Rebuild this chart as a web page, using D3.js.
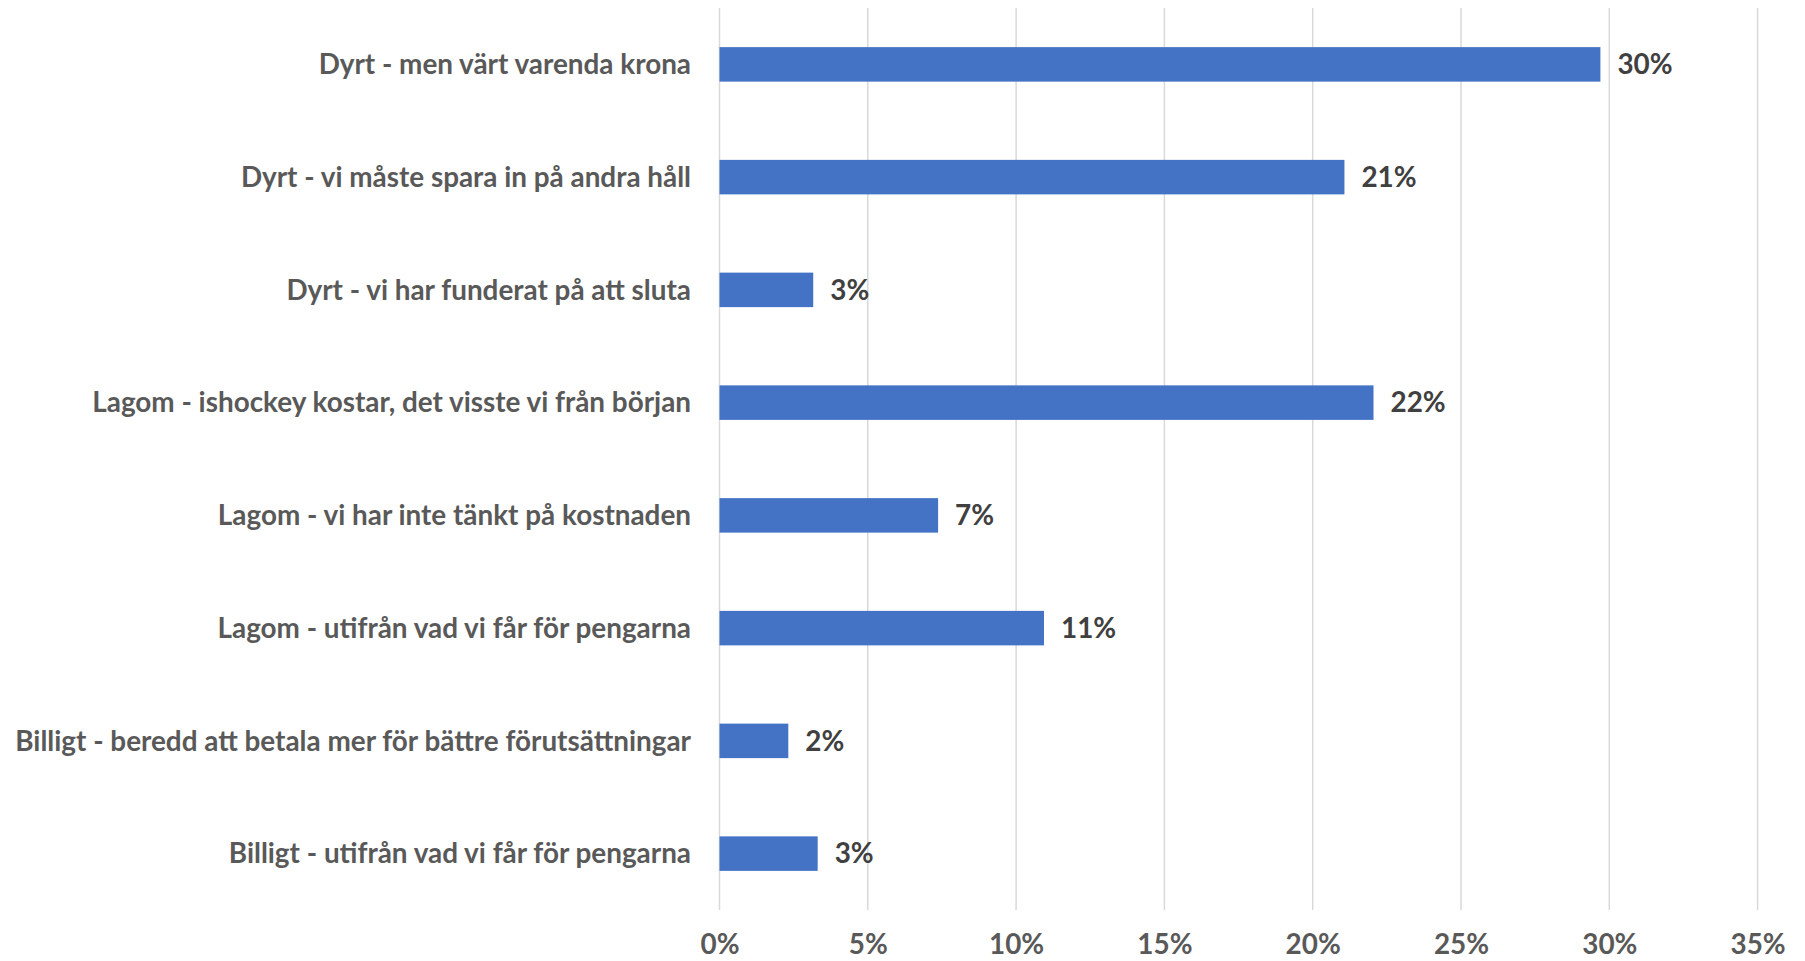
<!DOCTYPE html>
<html>
<head>
<meta charset="utf-8">
<script src="https://cdn.jsdelivr.net/npm/d3@7"></script>
<style>
html,body{margin:0;padding:0;background:#fff;}
svg{display:block;}
</style>
</head>
<body>
<svg id="chart" width="1805" height="961"></svg>
<script>
const categories = [
  "Dyrt - men värt varenda krona",
  "Dyrt - vi måste spara in på andra håll",
  "Dyrt - vi har funderat på att sluta",
  "Lagom - ishockey kostar, det visste vi från början",
  "Lagom - vi har inte tänkt på kostnaden",
  "Lagom - utifrån vad vi får för pengarna",
  "Billigt - beredd att betala mer för bättre förutsättningar",
  "Billigt - utifrån vad vi får för pengarna"
];
const values = [29.7, 21.07, 3.16, 22.05, 7.37, 10.94, 2.32, 3.31];
const valueLabels = ["30%", "21%", "3%", "22%", "7%", "11%", "2%", "3%"];
const tickValues = [0, 5, 10, 15, 20, 25, 30, 35];
const tickLabels = ["0%", "5%", "10%", "15%", "20%", "25%", "30%", "35%"];

(function () {
const svg = d3.select("#chart");
const font = "Lato, 'Open Sans', sans-serif";
const pLeft = 719.5, pRight = 1757.6, pTop = 8, pBottom = 910;

const x = d3.scaleLinear().domain([0, 35]).range([pLeft, pRight]);
const y = d3.scaleBand().domain(categories).range([pTop, pBottom]).paddingInner(0.694).paddingOuter(0.347);

// gridlines
svg.append("g").selectAll("line").data(tickValues).join("line")
  .attr("x1", d => x(d)).attr("x2", d => x(d))
  .attr("y1", pTop).attr("y2", pBottom)
  .attr("stroke", "#d9d9d9").attr("stroke-width", 1.5);

// bars
svg.append("g").selectAll("rect").data(values).join("rect")
  .attr("x", x(0))
  .attr("y", (d, i) => y(categories[i]))
  .attr("width", d => x(d) - x(0))
  .attr("height", y.bandwidth())
  .attr("fill", "#4472c4");

// fit font size so the widest category label matches reference width
const probe = svg.append("text").attr("font-family", font).attr("font-weight", 700)
  .attr("font-size", 24).text(categories[6]);
const w = probe.node().getComputedTextLength();
probe.remove();
const fs = 24 * 676 / w;

// category labels
svg.append("g").selectAll("text").data(categories).join("text")
  .attr("x", 691)
  .attr("y", d => y(d) + y.bandwidth() / 2)
  .attr("dy", "0.35em")
  .attr("text-anchor", "end")
  .attr("font-family", font).attr("font-weight", 700).attr("font-size", fs)
  .attr("fill", "#595959")
  .text(d => d);

// value labels
svg.append("g").selectAll("text").data(values).join("text")
  .attr("x", d => x(d) + 17)
  .attr("y", (d, i) => y(categories[i]) + y.bandwidth() / 2)
  .attr("dy", "0.35em")
  .attr("font-family", font).attr("font-weight", 700).attr("font-size", fs)
  .attr("fill", "#404040")
  .text((d, i) => valueLabels[i]);

// x axis tick labels
const axis = d3.axisBottom(x).tickValues(tickValues).tickFormat((d, i) => tickLabels[i]).tickSize(0).tickPadding(0);
const ax = svg.append("g").attr("transform", `translate(0, ${pBottom})`).call(axis);
ax.select(".domain").remove();
ax.selectAll("text")
  .attr("y", 34).attr("dy", "0.35em")
  .attr("font-family", font).attr("font-weight", 700).attr("font-size", fs)
  .attr("fill", "#595959");
})();
</script>
</body>
</html>
